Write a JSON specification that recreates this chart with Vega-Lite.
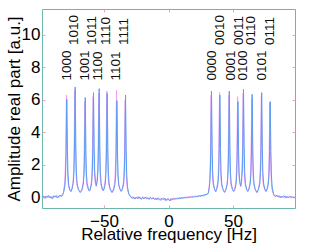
{
  "$schema": "https://vega.github.io/schema/vega-lite/v6.json",
  "width": 253,
  "height": 199,
  "autosize": {"type": "none"},
  "padding": {"left": 42, "top": 9, "right": 32, "bottom": 37},
  "background": "white",
  "config": {
    "view": {"stroke": "#6db5ad", "strokeWidth": 1},
    "font": "Liberation Sans",
    "axis": {"grid": false, "domain": false, "labelFont": "Liberation Sans", "titleFont": "Liberation Sans", "labelColor": "#000000", "titleColor": "#000000", "titleFontWeight": "normal", "tickColor": "#f0a0b0", "tickWidth": 1}
  },
  "datasets": {
    "spec": [
      {"x": -98, "b": 0.02, "m": 0.08}, {"x": -97, "b": 0.1, "m": -0.02}, {"x": -96, "b": -0.05, "m": 0.06}, {"x": -95, "b": 0.08, "m": -0.06},
      {"x": -94, "b": 0.0, "m": 0.1}, {"x": -93, "b": 0.12, "m": 0.0}, {"x": -92, "b": -0.02, "m": 0.08}, {"x": -91, "b": 0.06, "m": -0.05},
      {"x": -90, "b": -0.08, "m": 0.04}, {"x": -89, "b": 0.1, "m": -0.02}, {"x": -88, "b": 0.03, "m": 0.1}, {"x": -87, "b": 0.12, "m": 0.0},
      {"x": -86, "b": -0.04, "m": 0.09}, {"x": -85, "b": 0.08, "m": 0.02}, {"x": -84, "b": 0.14, "m": 0.05}, {"x": -83, "b": 0.05, "m": 0.15},
      {"x": -82, "b": 0.18, "m": 0.12},
      {"x": -81.3, "b": 0.3, "m": 0.35}, {"x": -80.3, "b": 0.7, "m": 0.98}, {"x": -79.7, "b": 1.45, "m": 2.29}, {"x": -79.3, "b": 2.9, "m": 4.82},
      {"x": -79.05, "b": 4.6, "m": 6.3}, {"x": -78.8, "b": 6.05, "m": 4.82}, {"x": -78.55, "b": 4.6, "m": 3.06}, {"x": -78.3, "b": 2.9, "m": 1.92},
      {"x": -77.9, "b": 1.45, "m": 1.08}, {"x": -77.3, "b": 0.75, "m": 0.64}, {"x": -76.3, "b": 0.45, "m": 0.42}, {"x": -75.55, "b": 0.38, "m": 0.35},
      {"x": -74.8, "b": 0.51, "m": 0.55}, {"x": -73.8, "b": 0.86, "m": 1.06}, {"x": -73.2, "b": 1.61, "m": 2.38}, {"x": -72.8, "b": 3.23, "m": 5.14},
      {"x": -72.55, "b": 5.2, "m": 6.6}, {"x": -72.3, "b": 6.8, "m": 5.04}, {"x": -72.05, "b": 5.2, "m": 3.14}, {"x": -71.8, "b": 3.23, "m": 1.99},
      {"x": -71.4, "b": 1.61, "m": 1.12}, {"x": -70.8, "b": 0.86, "m": 0.71}, {"x": -69.8, "b": 0.5, "m": 0.47}, {"x": -68.4, "b": 0.3, "m": 0.33},
      {"x": -67.0, "b": 0.46, "m": 0.53}, {"x": -66.0, "b": 0.81, "m": 0.98}, {"x": -65.4, "b": 1.48, "m": 2.16}, {"x": -65.0, "b": 2.94, "m": 4.61},
      {"x": -64.75, "b": 4.7, "m": 5.9}, {"x": -64.5, "b": 6.15, "m": 4.51}, {"x": -64.25, "b": 4.7, "m": 2.83}, {"x": -64.0, "b": 2.94, "m": 1.81},
      {"x": -63.6, "b": 1.48, "m": 1.03}, {"x": -63.0, "b": 0.85, "m": 0.66}, {"x": -62.0, "b": 0.52, "m": 0.45}, {"x": -61.3, "b": 0.4, "m": 0.38},
      {"x": -60.6, "b": 0.5, "m": 0.54}, {"x": -59.6, "b": 0.84, "m": 1.02}, {"x": -59.0, "b": 1.59, "m": 2.3}, {"x": -58.6, "b": 3.13, "m": 4.89},
      {"x": -58.35, "b": 4.93, "m": 6.2}, {"x": -58.1, "b": 6.45, "m": 4.74}, {"x": -57.85, "b": 4.93, "m": 3.02}, {"x": -57.6, "b": 3.13, "m": 1.94},
      {"x": -57.2, "b": 1.64, "m": 1.17}, {"x": -56.6, "b": 0.99, "m": 0.83}, {"x": -55.9, "b": 0.72, "m": 0.68},
      {"x": -55.2, "b": 1.01, "m": 1.19}, {"x": -54.6, "b": 1.64, "m": 2.37}, {"x": -54.2, "b": 3.24, "m": 5.05}, {"x": -53.95, "b": 5.12, "m": 6.4},
      {"x": -53.7, "b": 6.7, "m": 4.9}, {"x": -53.45, "b": 5.12, "m": 3.11}, {"x": -53.2, "b": 3.24, "m": 1.94}, {"x": -52.8, "b": 1.59, "m": 1.1},
      {"x": -52.2, "b": 0.86, "m": 0.69}, {"x": -51.2, "b": 0.51, "m": 0.47}, {"x": -50.6, "b": 0.42, "m": 0.4},
      {"x": -50.0, "b": 0.5, "m": 0.55}, {"x": -49.0, "b": 0.83, "m": 1.06}, {"x": -48.4, "b": 1.53, "m": 2.37}, {"x": -48.0, "b": 3.06, "m": 5.11},
      {"x": -47.75, "b": 4.9, "m": 6.55}, {"x": -47.5, "b": 6.4, "m": 5.01}, {"x": -47.25, "b": 4.9, "m": 3.12}, {"x": -47.0, "b": 3.06, "m": 1.98},
      {"x": -46.6, "b": 1.53, "m": 1.12}, {"x": -46.0, "b": 0.83, "m": 0.7}, {"x": -45.0, "b": 0.47, "m": 0.47}, {"x": -43.75, "b": 0.3, "m": 0.32},
      {"x": -42.5, "b": 0.46, "m": 0.55}, {"x": -41.5, "b": 0.79, "m": 1.06}, {"x": -40.9, "b": 1.44, "m": 2.38}, {"x": -40.5, "b": 2.85, "m": 5.14},
      {"x": -40.25, "b": 4.55, "m": 6.6}, {"x": -40.0, "b": 5.95, "m": 5.04}, {"x": -39.75, "b": 4.55, "m": 3.14}, {"x": -39.5, "b": 2.85, "m": 2.0},
      {"x": -39.1, "b": 1.44, "m": 1.12}, {"x": -38.5, "b": 0.79, "m": 0.71}, {"x": -37.5, "b": 0.5, "m": 0.47}, {"x": -36.65, "b": 0.38, "m": 0.36},
      {"x": -35.8, "b": 0.49, "m": 0.53}, {"x": -34.8, "b": 0.82, "m": 0.99}, {"x": -34.2, "b": 1.51, "m": 2.19}, {"x": -33.8, "b": 3.01, "m": 4.69},
      {"x": -33.55, "b": 4.82, "m": 6.0}, {"x": -33.3, "b": 6.3, "m": 4.59}, {"x": -33.05, "b": 4.82, "m": 2.88}, {"x": -32.8, "b": 3.01, "m": 1.79},
      {"x": -32.4, "b": 1.46, "m": 0.94}, {"x": -31.8, "b": 0.67, "m": 0.47}, {"x": -30.8, "b": 0.24, "m": 0.21},
      {"x": -30, "b": 0.1, "m": 0.14}, {"x": -29, "b": 0.04, "m": -0.02}, {"x": -28, "b": -0.06, "m": 0.05}, {"x": -27, "b": 0.03, "m": -0.08},
      {"x": -26, "b": -0.1, "m": 0.0}, {"x": -25, "b": 0.02, "m": -0.05}, {"x": -24, "b": -0.08, "m": 0.04}, {"x": -23, "b": 0.05, "m": -0.1},
      {"x": -22, "b": -0.04, "m": 0.02}, {"x": -21, "b": -0.12, "m": -0.06}, {"x": -20, "b": 0.0, "m": 0.05}, {"x": -19, "b": -0.07, "m": -0.1},
      {"x": -18, "b": 0.03, "m": -0.02}, {"x": -17, "b": -0.1, "m": 0.03}, {"x": -16, "b": -0.02, "m": -0.09}, {"x": -15, "b": -0.13, "m": -0.04},
      {"x": -14, "b": 0.0, "m": 0.02}, {"x": -13, "b": -0.08, "m": -0.11}, {"x": -12, "b": -0.03, "m": 0.0}, {"x": -11, "b": -0.12, "m": -0.07},
      {"x": -10, "b": -0.05, "m": -0.13}, {"x": -9, "b": -0.15, "m": -0.03}, {"x": -8, "b": -0.02, "m": -0.1}, {"x": -7, "b": -0.1, "m": -0.16},
      {"x": -6, "b": -0.18, "m": -0.05}, {"x": -5, "b": -0.06, "m": -0.12}, {"x": -4, "b": -0.14, "m": -0.02}, {"x": -3, "b": -0.04, "m": -0.15},
      {"x": -2, "b": -0.2, "m": -0.08}, {"x": -1, "b": -0.08, "m": -0.18}, {"x": 0, "b": -0.12, "m": -0.06}, {"x": 1, "b": -0.22, "m": -0.14},
      {"x": 2, "b": -0.07, "m": -0.2}, {"x": 3, "b": -0.15, "m": -0.05}, {"x": 4, "b": -0.05, "m": -0.12}, {"x": 5, "b": -0.13, "m": -0.03},
      {"x": 6, "b": -0.04, "m": -0.1}, {"x": 7, "b": -0.11, "m": -0.02}, {"x": 8, "b": -0.02, "m": -0.09}, {"x": 9, "b": -0.09, "m": 0.0},
      {"x": 10, "b": 0.0, "m": -0.08}, {"x": 11, "b": -0.07, "m": 0.02}, {"x": 12, "b": 0.02, "m": -0.05}, {"x": 13, "b": -0.05, "m": 0.04},
      {"x": 14, "b": 0.03, "m": -0.03}, {"x": 15, "b": -0.04, "m": 0.05}, {"x": 16, "b": 0.05, "m": -0.02}, {"x": 17, "b": -0.02, "m": 0.06},
      {"x": 18, "b": 0.06, "m": 0.0}, {"x": 19, "b": 0.0, "m": 0.08}, {"x": 20, "b": 0.08, "m": 0.02}, {"x": 21, "b": 0.02, "m": 0.1},
      {"x": 22, "b": 0.1, "m": 0.04}, {"x": 23, "b": 0.04, "m": 0.12}, {"x": 24, "b": 0.12, "m": 0.06}, {"x": 25, "b": 0.06, "m": 0.14},
      {"x": 26, "b": 0.15, "m": 0.08}, {"x": 27, "b": 0.08, "m": 0.16}, {"x": 28, "b": 0.18, "m": 0.12}, {"x": 29, "b": 0.14, "m": 0.2},
      {"x": 30, "b": 0.22, "m": 0.18},
      {"x": 30.8, "b": 0.25, "m": 0.29}, {"x": 31.8, "b": 0.69, "m": 0.88}, {"x": 32.4, "b": 1.51, "m": 2.23}, {"x": 32.8, "b": 3.12, "m": 4.92},
      {"x": 33.05, "b": 5.01, "m": 6.3}, {"x": 33.3, "b": 6.55, "m": 4.82}, {"x": 33.55, "b": 5.01, "m": 3.01}, {"x": 33.8, "b": 3.12, "m": 1.92},
      {"x": 34.2, "b": 1.56, "m": 1.08}, {"x": 34.8, "b": 0.84, "m": 0.69}, {"x": 35.8, "b": 0.5, "m": 0.46}, {"x": 36.55, "b": 0.36, "m": 0.34},
      {"x": 37.3, "b": 0.49, "m": 0.55}, {"x": 38.3, "b": 0.82, "m": 1.04}, {"x": 38.9, "b": 1.51, "m": 2.33}, {"x": 39.3, "b": 3.01, "m": 5.03},
      {"x": 39.55, "b": 4.82, "m": 6.45}, {"x": 39.8, "b": 6.3, "m": 4.93}, {"x": 40.05, "b": 4.82, "m": 3.08}, {"x": 40.3, "b": 3.01, "m": 1.96},
      {"x": 40.7, "b": 1.51, "m": 1.1}, {"x": 41.3, "b": 0.82, "m": 0.7}, {"x": 42.3, "b": 0.47, "m": 0.47}, {"x": 43.45, "b": 0.32, "m": 0.3},
      {"x": 44.6, "b": 0.5, "m": 0.54}, {"x": 45.6, "b": 0.84, "m": 1.03}, {"x": 46.2, "b": 1.56, "m": 2.28}, {"x": 46.6, "b": 3.12, "m": 4.92},
      {"x": 46.85, "b": 5.01, "m": 6.3}, {"x": 47.1, "b": 6.55, "m": 4.82}, {"x": 47.35, "b": 5.01, "m": 3.01}, {"x": 47.6, "b": 3.12, "m": 1.92},
      {"x": 48.0, "b": 1.56, "m": 1.08}, {"x": 48.6, "b": 0.84, "m": 0.69}, {"x": 49.6, "b": 0.5, "m": 0.46}, {"x": 50.45, "b": 0.38, "m": 0.36},
      {"x": 51.3, "b": 0.48, "m": 0.54}, {"x": 52.3, "b": 0.79, "m": 1.02}, {"x": 52.9, "b": 1.48, "m": 2.3}, {"x": 53.3, "b": 2.88, "m": 4.89},
      {"x": 53.55, "b": 4.51, "m": 6.2}, {"x": 53.8, "b": 5.9, "m": 4.74}, {"x": 54.05, "b": 4.51, "m": 3.02}, {"x": 54.3, "b": 2.88, "m": 1.94},
      {"x": 54.7, "b": 1.53, "m": 1.17}, {"x": 55.3, "b": 0.94, "m": 0.83}, {"x": 55.95, "b": 0.7, "m": 0.66},
      {"x": 56.6, "b": 1.0, "m": 1.19}, {"x": 57.2, "b": 1.63, "m": 2.37}, {"x": 57.6, "b": 3.22, "m": 5.05}, {"x": 57.85, "b": 5.08, "m": 6.4},
      {"x": 58.1, "b": 6.65, "m": 4.9}, {"x": 58.35, "b": 5.08, "m": 3.11}, {"x": 58.6, "b": 3.22, "m": 1.94}, {"x": 59.0, "b": 1.58, "m": 1.1},
      {"x": 59.6, "b": 0.85, "m": 0.69}, {"x": 60.6, "b": 0.5, "m": 0.47}, {"x": 61.45, "b": 0.38, "m": 0.36},
      {"x": 62.3, "b": 0.5, "m": 0.53}, {"x": 63.3, "b": 0.83, "m": 1.0}, {"x": 63.9, "b": 1.52, "m": 2.22}, {"x": 64.3, "b": 3.03, "m": 4.76},
      {"x": 64.55, "b": 4.86, "m": 6.1}, {"x": 64.8, "b": 6.35, "m": 4.66}, {"x": 65.05, "b": 4.86, "m": 2.92}, {"x": 65.3, "b": 3.03, "m": 1.86},
      {"x": 65.7, "b": 1.52, "m": 1.06}, {"x": 66.3, "b": 0.83, "m": 0.68}, {"x": 67.3, "b": 0.47, "m": 0.46}, {"x": 68.5, "b": 0.3, "m": 0.32},
      {"x": 69.7, "b": 0.5, "m": 0.54}, {"x": 70.7, "b": 0.84, "m": 1.02}, {"x": 71.3, "b": 1.54, "m": 2.25}, {"x": 71.7, "b": 3.08, "m": 4.84},
      {"x": 71.95, "b": 4.93, "m": 6.2}, {"x": 72.2, "b": 6.45, "m": 4.74}, {"x": 72.45, "b": 4.93, "m": 2.97}, {"x": 72.7, "b": 3.08, "m": 1.89},
      {"x": 73.1, "b": 1.54, "m": 1.07}, {"x": 73.7, "b": 0.84, "m": 0.68}, {"x": 74.7, "b": 0.5, "m": 0.46}, {"x": 75.5, "b": 0.38, "m": 0.36},
      {"x": 76.3, "b": 0.48, "m": 0.53}, {"x": 77.3, "b": 0.79, "m": 0.98}, {"x": 77.9, "b": 1.43, "m": 2.14}, {"x": 78.3, "b": 2.83, "m": 4.57},
      {"x": 78.55, "b": 4.51, "m": 5.85}, {"x": 78.8, "b": 5.9, "m": 4.47}, {"x": 79.05, "b": 4.51, "m": 2.81}, {"x": 79.3, "b": 2.83, "m": 1.75},
      {"x": 79.7, "b": 1.38, "m": 0.92}, {"x": 80.3, "b": 0.64, "m": 0.46}, {"x": 81.3, "b": 0.23, "m": 0.2},
      {"x": 82, "b": 0.12, "m": 0.08}, {"x": 83, "b": 0.05, "m": 0.15}, {"x": 84, "b": 0.14, "m": 0.04}, {"x": 85, "b": 0.03, "m": 0.12},
      {"x": 86, "b": 0.1, "m": -0.02}, {"x": 87, "b": -0.02, "m": 0.09}, {"x": 88, "b": 0.08, "m": 0.0}, {"x": 89, "b": 0.0, "m": 0.1},
      {"x": 90, "b": 0.1, "m": 0.03}, {"x": 91, "b": -0.04, "m": 0.08}, {"x": 92, "b": 0.06, "m": -0.03}, {"x": 93, "b": -0.02, "m": 0.07},
      {"x": 94, "b": 0.07, "m": 0.0}, {"x": 95, "b": 0.0, "m": 0.06}, {"x": 96, "b": 0.05, "m": -0.04}, {"x": 97, "b": -0.03, "m": 0.04},
      {"x": 98, "b": 0.03, "m": 0.0}
    ],
    "labels": [
      {"x": -78.5, "y": 7.2, "t": "1000"}, {"x": -73.1, "y": 9.38, "t": "1010"}, {"x": -64.8, "y": 7.2, "t": "1001"}, {"x": -58.9, "y": 9.38, "t": "1011"},
      {"x": -54.3, "y": 7.2, "t": "1100"}, {"x": -48.5, "y": 9.38, "t": "1110"}, {"x": -40.3, "y": 7.2, "t": "1101"}, {"x": -34.1, "y": 9.38, "t": "1111"},
      {"x": 33.6, "y": 7.2, "t": "0000"}, {"x": 40.1, "y": 9.38, "t": "0010"}, {"x": 48.4, "y": 7.2, "t": "0001"}, {"x": 54.3, "y": 9.38, "t": "0011"},
      {"x": 57.9, "y": 7.2, "t": "0100"}, {"x": 63.9, "y": 9.38, "t": "0110"}, {"x": 72.4, "y": 7.2, "t": "0101"}, {"x": 78.8, "y": 9.38, "t": "0111"}
    ]
  },
  "resolve": {"axis": {"x": "independent", "y": "independent"}},
  "layer": [
    {
      "data": {"name": "spec"},
      "transform": [{"fold": ["m", "b"], "as": ["series", "amp"]}],
      "mark": {"type": "line", "strokeWidth": 1, "clip": true},
      "encoding": {
        "x": {"field": "x", "type": "quantitative", "scale": {"domain": [-98, 98], "nice": false, "zero": false},
          "axis": {"orient": "bottom", "values": [-50, 0, 50], "tickSize": -3, "labelPadding": 8, "labelFontSize": 17, "labelFlush": false,
            "title": "Relative frequency [Hz]", "titleFontSize": 17, "titleBaseline": "alphabetic", "titleY": 31.5}},
        "y": {"field": "amp", "type": "quantitative", "scale": {"domain": [-0.65, 11.6], "nice": false, "zero": false},
          "axis": {"orient": "left", "values": [0, 2, 4, 6, 8, 10], "tickSize": -3, "labelPadding": 5, "labelFontSize": 17,
            "title": "Amplitude real part [a.u.]", "titleFontSize": 17, "titleBaseline": "alphabetic", "titleX": -22.3}},
        "color": {"field": "series", "type": "nominal", "scale": {"domain": ["m", "b"], "range": ["#f79af0", "#5a9cf6"]}, "legend": null}
      }
    },
    {
      "data": {"name": "labels"},
      "mark": {"type": "text", "angle": 270, "align": "left", "baseline": "middle", "fontSize": 13.5, "font": "Liberation Sans", "color": "#111111"},
      "encoding": {
        "x": {"field": "x", "type": "quantitative", "scale": {"domain": [-98, 98], "nice": false, "zero": false},
          "axis": {"orient": "top", "values": [-50, 0, 50], "tickSize": -3, "labels": false, "title": null}},
        "y": {"field": "y", "type": "quantitative", "scale": {"domain": [-0.65, 11.6], "nice": false, "zero": false},
          "axis": {"orient": "right", "values": [0, 2, 4, 6, 8, 10], "tickSize": -3, "labels": false, "title": null}},
        "text": {"field": "t", "type": "nominal"}
      }
    }
  ]
}
